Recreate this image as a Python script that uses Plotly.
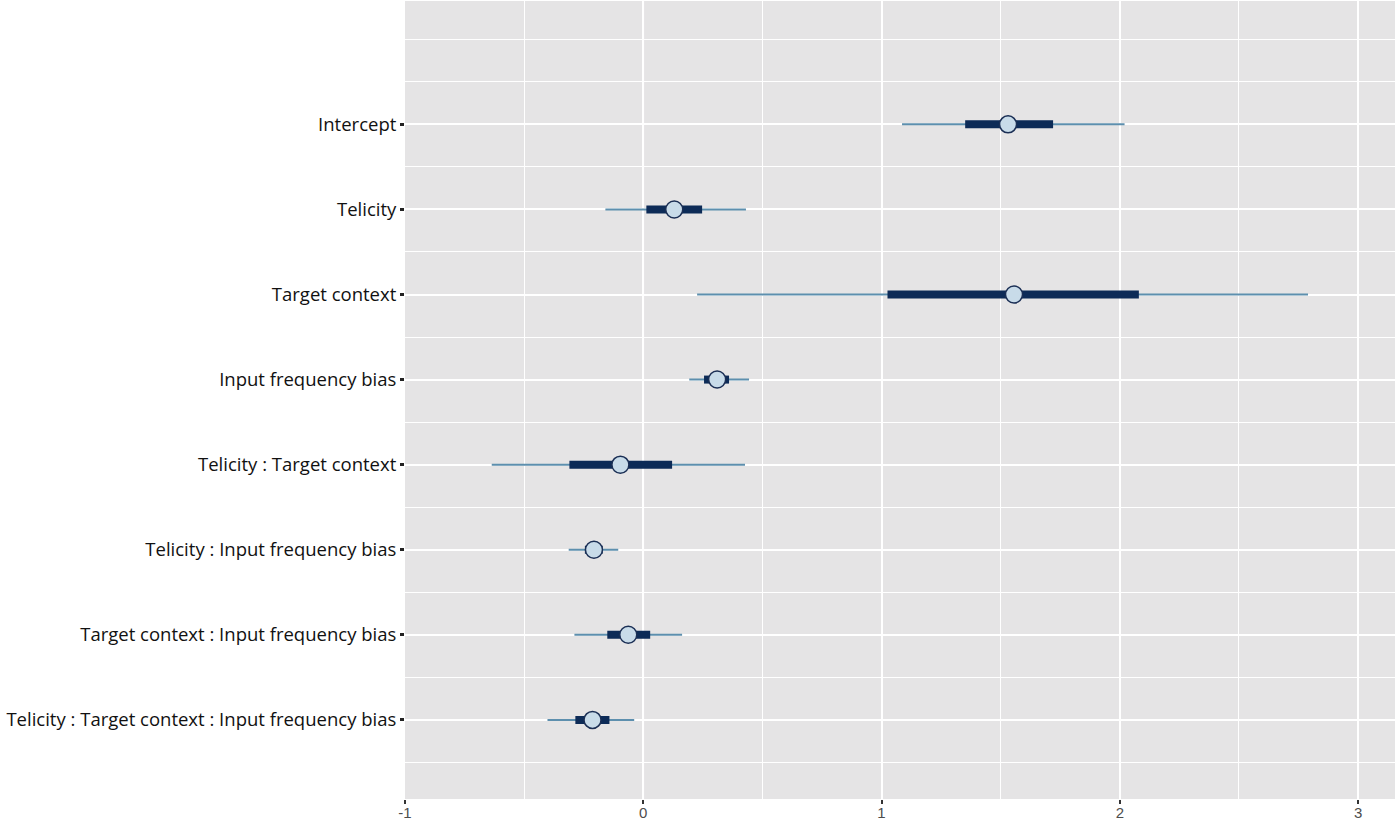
import plotly.graph_objects as go

terms = [
    "Intercept",
    "Telicity",
    "Target context",
    "Input frequency bias",
    "Telicity : Target context",
    "Telicity : Input frequency bias",
    "Target context : Input frequency bias",
    "Telicity : Target context : Input frequency bias",
]
estimate = [1.531, 0.130, 1.556, 0.310, -0.096, -0.207, -0.063, -0.213]
outer_lo = [1.086, -0.159, 0.226, 0.193, -0.636, -0.313, -0.289, -0.402]
outer_hi = [2.020, 0.431, 2.790, 0.444, 0.427, -0.105, 0.163, -0.038]
inner_lo = [1.351, 0.013, 1.025, 0.255, -0.310, -0.245, -0.151, -0.285]
inner_hi = [1.720, 0.247, 2.080, 0.360, 0.121, -0.170, 0.029, -0.142]
x_ticks = [-1, 0, 1, 2, 3]

n = len(terms)
ypos = [n - i for i in range(n)]

def segs(lo, hi):
    xs, ys = [], []
    for a, b, y in zip(lo, hi, ypos):
        xs += [a, b, None]
        ys += [y, y, None]
    return xs, ys

fig = go.Figure()
ox, oy = segs(outer_lo, outer_hi)
fig.add_trace(go.Scatter(x=ox, y=oy, mode="lines",
                         line=dict(color="#5d8fae", width=2), hoverinfo="skip"))
ix, iy = segs(inner_lo, inner_hi)
fig.add_trace(go.Scatter(x=ix, y=iy, mode="lines",
                         line=dict(color="#0d2b57", width=8), hoverinfo="skip"))
fig.add_trace(go.Scatter(x=estimate, y=ypos, mode="markers",
                         marker=dict(size=17, color="#c8dbe9",
                                     line=dict(color="#1b2f55", width=1.5))))

fig.add_shape(type="line", x0=0, x1=0, y0=0, y1=1, yref="paper", xref="x",
              line=dict(color="#ebeaeb", width=2), layer="between")

fig.update_layout(
    width=1400, height=825,
    margin=dict(l=405, r=5, t=1, b=26),
    paper_bgcolor="white",
    plot_bgcolor="#e5e4e5",
    showlegend=False,
    xaxis=dict(
        range=[-1, 3.155], tickvals=x_ticks, ticktext=[str(v) for v in x_ticks],
        showgrid=True, gridcolor="white", gridwidth=2, zeroline=False,
        ticks="outside", ticklen=4, tickwidth=2, tickcolor="#333333",
        tickfont=dict(family="Liberation Sans, Arial", size=15, color="#4d4d4d"),
        ticklabelstandoff=-4,
        minor=dict(dtick=0.5, tick0=-0.5, showgrid=True, gridcolor="white", gridwidth=1),
        showline=False,
    ),
    yaxis=dict(
        range=[0.07, 9.45], tickvals=ypos, ticktext=terms,
        showgrid=True, gridcolor="white", gridwidth=2, zeroline=False,
        ticks="outside", ticklen=4, tickwidth=3, tickcolor="#222222",
        tickfont=dict(family="Open Sans", size=18.5, color="#111111"),
        minor=dict(dtick=0.5, tick0=0.5, showgrid=True, gridcolor="white", gridwidth=1),
        showline=False,
    ),
)

fig.write_html("out.html", config={"displayModeBar": False},
               post_script="document.body.style.margin='0';document.body.style.padding='0';")
